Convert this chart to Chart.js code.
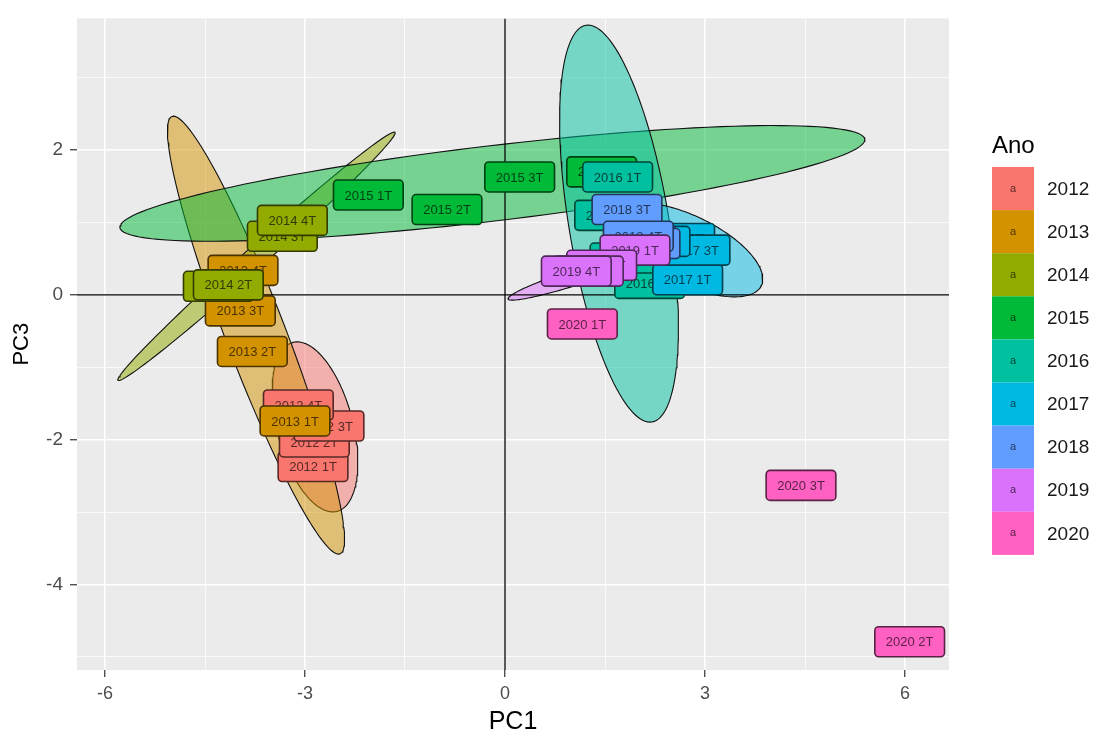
<!DOCTYPE html>
<html>
<head>
<meta charset="utf-8">
<title>PC1 x PC3</title>
<script src="https://cdn.jsdelivr.net/npm/chart.js@4.4.0/dist/chart.umd.min.js"></script>
<style>
  body { margin: 0; background: #fff; }
  canvas { display: block; }
</style>
</head>
<body>
<canvas id="graficoPCA" width="1104" height="737"></canvas>
<script>
// anos e cores (paleta padrão do ggplot)
const anos = ["2012", "2013", "2014", "2015", "2016", "2017", "2018", "2019", "2020"];
const cores = ["#F8766D", "#D39200", "#93AA00", "#00BA38", "#00C19F", "#00B9E3", "#619CFF", "#DB72FB", "#FF61C3"];

// rótulos por trimestre e coordenadas
const rotulos = [
  "2012 1T", "2012 2T", "2012 3T", "2012 4T",
  "2013 1T", "2013 2T", "2013 3T", "2013 4T",
  "2014 1T", "2014 2T", "2014 3T", "2014 4T",
  "2015 1T", "2015 2T", "2015 3T", "2015 4T",
  "2016 1T", "2016 2T", "2016 3T", "2016 4T",
  "2017 1T", "2017 2T", "2017 3T", "2017 4T",
  "2018 1T", "2018 2T", "2018 3T", "2018 4T",
  "2019 1T", "2019 2T", "2019 3T", "2019 4T",
  "2020 1T", "2020 2T", "2020 3T"
];
const pc1 = [
  -2.88, -2.86, -2.64, -3.10,
  -3.15, -3.79, -3.97, -3.93,
  -4.30, -4.15, -3.34, -3.19,
  -2.05, -0.87, 0.22, 1.45,
  1.69, 1.57, 2.17, 1.80,
  2.74, 2.62, 2.85, 2.25,
  2.02, 2.10, 1.83, 2.00,
  1.95, 1.45, 1.25, 1.07,
  1.16, 6.07, 4.44
];
const pc3 = [
  -2.37, -2.03, -1.81, -1.52,
  -1.74, -0.78, -0.22, 0.34,
  0.12, 0.14, 0.81, 1.03,
  1.38, 1.18, 1.63, 1.70,
  1.63, 1.10, 0.16, 0.51,
  0.21, 0.78, 0.62, 0.74,
  0.77, 0.71, 1.18, 0.81,
  0.62, 0.41, 0.33, 0.33,
  -0.40, -4.79, -2.63
];

const ticksX = [-6, -3, 0, 3, 6];
const ticksY = [-4, -2, 0, 2];
const gradeX = [-6, -4.5, -3, -1.5, 0, 1.5, 3, 4.5, 6];
const gradeY = [-5, -4, -3, -2, -1, 0, 1, 2, 3];

// elipses por ano: centro e semi-eixos conjugados (unidades dos eixos)
const elAno = ["2012", "2013", "2014", "2015", "2016", "2017", "2019"];
const elCx = [-2.85, -3.735, -3.727, -0.19, 1.71, 2.76, 1.11];
const elCy = [-1.822, -0.555, 0.534, 1.541, 0.986, 0.62, 0.26];
const elUx = [0.33, 1.26, 2.077, 5.587, 0.495, 1.08, 1.065];
const elUy = [-1.167, -3.021, 1.712, 0.61, -2.74, -0.50, 0.315];
const elVx = [0.552, 0.42, 0.105, 0.0675, 0.741, -0.24, 0.0375];
const elVy = [0.13, 0.147, -0.107, -0.516, 0.111, -0.41, -0.104];

function corAno(ano, alfa) {
  const hex = cores[anos.indexOf(ano)];
  const r = parseInt(hex.slice(1, 3), 16), g = parseInt(hex.slice(3, 5), 16), b = parseInt(hex.slice(5, 7), 16);
  return `rgba(${r}, ${g}, ${b}, ${alfa})`;
}

function corEscura(hex) {
  const r = parseInt(hex.slice(1, 3), 16), g = parseInt(hex.slice(3, 5), 16), b = parseInt(hex.slice(5, 7), 16);
  const f = 0.35;
  return `rgb(${Math.round(r * f)}, ${Math.round(g * f)}, ${Math.round(b * f)})`;
}

function contorno(i) {
  const pts = [];
  for (let k = 0; k <= 140; k++) {
    const t = (k / 140) * 2 * Math.PI;
    pts.push({
      x: elCx[i] + elUx[i] * Math.cos(t) + elVx[i] * Math.sin(t),
      y: elCy[i] + elUy[i] * Math.cos(t) + elVy[i] * Math.sin(t)
    });
  }
  return pts;
}

const datasetsElipses = elAno.map((ano, i) => ({
  type: "line",
  label: "elipse " + ano,
  data: contorno(i),
  borderColor: "#111111",
  borderWidth: 1.1,
  backgroundColor: corAno(ano, 0.5),
  fill: "shape",
  pointRadius: 0,
  tension: 0,
  order: -i
}));

const datasetRotulos = {
  type: "line",
  label: "rotulos",
  data: rotulos.map((r, i) => ({ x: pc1[i], y: pc3[i] })),
  showLine: false,
  pointRadius: 0,
  order: 10
};

// fundo cinza do painel
const painel = {
  id: "painel",
  beforeDraw(chart) {
    const { ctx, chartArea: a } = chart;
    ctx.save();
    ctx.fillStyle = "#EBEBEB";
    ctx.fillRect(a.left, a.top, a.right - a.left, a.bottom - a.top);
    ctx.restore();
  }
};

// linhas em zero e rótulos (geom_label)
const rotulosPlugin = {
  id: "rotulosPlugin",
  afterDatasetsDraw(chart) {
    const { ctx, chartArea: a, scales } = chart;
    ctx.save();
    ctx.beginPath();
    ctx.rect(a.left, a.top, a.right - a.left, a.bottom - a.top);
    ctx.clip();

    const x0 = scales.x.getPixelForValue(0);
    const y0 = scales.y.getPixelForValue(0);
    ctx.strokeStyle = "#000000";
    ctx.lineWidth = 1.3;
    ctx.beginPath();
    ctx.moveTo(a.left, y0); ctx.lineTo(a.right, y0);
    ctx.moveTo(x0, a.top); ctx.lineTo(x0, a.bottom);
    ctx.stroke();

    const meta = chart.getDatasetMeta(chart.data.datasets.length - 1);
    ctx.font = '13px "Liberation Sans", Arial, sans-serif';
    ctx.textAlign = "center";
    ctx.textBaseline = "middle";
    meta.data.forEach((pt, i) => {
      const txt = rotulos[i];
      const cor = cores[anos.indexOf(txt.slice(0, 4))];
      const escura = corEscura(cor);
      const w = ctx.measureText(txt).width + 22;
      const h = 30;
      ctx.beginPath();
      ctx.roundRect(pt.x - w / 2, pt.y - h / 2, w, h, 4);
      ctx.fillStyle = cor;
      ctx.fill();
      ctx.lineWidth = 1.6;
      ctx.strokeStyle = escura;
      ctx.stroke();
      ctx.fillStyle = escura;
      ctx.fillText(txt, pt.x, pt.y + 1);
    });
    ctx.restore();
  }
};

// legenda "Ano"
const legendaAno = {
  id: "legendaAno",
  afterDraw(chart) {
    const ctx = chart.ctx;
    ctx.save();
    ctx.fillStyle = "#000000";
    ctx.font = '24px "Liberation Sans", Arial, sans-serif';
    ctx.textAlign = "left";
    ctx.textBaseline = "alphabetic";
    ctx.fillText("Ano", 992, 153);
    const topo = 167, alt = 43.1, larg = 42, esq = 992;
    anos.forEach((ano, i) => {
      const y = topo + i * alt;
      ctx.fillStyle = cores[i];
      ctx.fillRect(esq, y, larg, alt);
      ctx.fillStyle = corEscura(cores[i]);
      ctx.font = '11px "Liberation Sans", Arial, sans-serif';
      ctx.textAlign = "center";
      ctx.textBaseline = "middle";
      ctx.fillText("a", esq + larg / 2, y + alt / 2);
      ctx.fillStyle = "#1A1A1A";
      ctx.font = '19px "Liberation Sans", Arial, sans-serif';
      ctx.textAlign = "left";
      ctx.fillText(ano, 1047, y + alt / 2 + 1);
    });
    ctx.restore();
  }
};

new Chart(document.getElementById("graficoPCA").getContext("2d"), {
  type: "line",
  data: { datasets: [...datasetsElipses, datasetRotulos] },
  options: {
    responsive: false,
    animation: false,
    layout: { padding: { top: 13, right: 155, left: 0, bottom: 0 } },
    plugins: {
      legend: { display: false },
      tooltip: { enabled: false }
    },
    scales: {
      x: {
        type: "linear",
        min: -6.42,
        max: 6.66,
        afterBuildTicks: s => { s.ticks = gradeX.map(v => ({ value: v })); },
        afterFit: s => { s.height = 67; },
        border: { display: false },
        grid: {
          color: "#FFFFFF",
          lineWidth: c => ticksX.includes(c.tick.value) ? 1.5 : 0.75,
          drawTicks: true,
          tickLength: 7,
          tickWidth: 1.2,
          tickColor: c => ticksX.includes(c.tick.value) ? "#333333" : "rgba(0,0,0,0)"
        },
        ticks: {
          autoSkip: false,
          maxRotation: 0,
          padding: 6,
          color: "#4D4D4D",
          font: { size: 18, family: '"Liberation Sans", Arial, sans-serif' },
          callback: v => ticksX.includes(v) ? String(v) : ""
        },
        title: {
          display: true,
          text: "PC1",
          color: "#000000",
          font: { size: 25, family: '"Liberation Sans", Arial, sans-serif' },
          padding: { top: 0, bottom: 0 }
        }
      },
      y: {
        type: "linear",
        min: -5.18,
        max: 3.82,
        afterBuildTicks: s => { s.ticks = gradeY.map(v => ({ value: v })); },
        afterFit: s => { s.width = 77; },
        border: { display: false },
        grid: {
          color: "#FFFFFF",
          lineWidth: c => ticksY.includes(c.tick.value) ? 1.5 : 0.75,
          drawTicks: true,
          tickLength: 7,
          tickWidth: 1.2,
          tickColor: c => ticksY.includes(c.tick.value) ? "#333333" : "rgba(0,0,0,0)"
        },
        ticks: {
          autoSkip: false,
          padding: 7,
          color: "#4D4D4D",
          font: { size: 19, family: '"Liberation Sans", Arial, sans-serif' },
          callback: v => ticksY.includes(v) ? String(v) : ""
        },
        title: {
          display: true,
          text: "PC3",
          color: "#000000",
          font: { size: 22, family: '"Liberation Sans", Arial, sans-serif' },
          padding: { top: 9, bottom: 0 }
        }
      }
    }
  },
  plugins: [painel, rotulosPlugin, legendaAno]
});
</script>
</body>
</html>
